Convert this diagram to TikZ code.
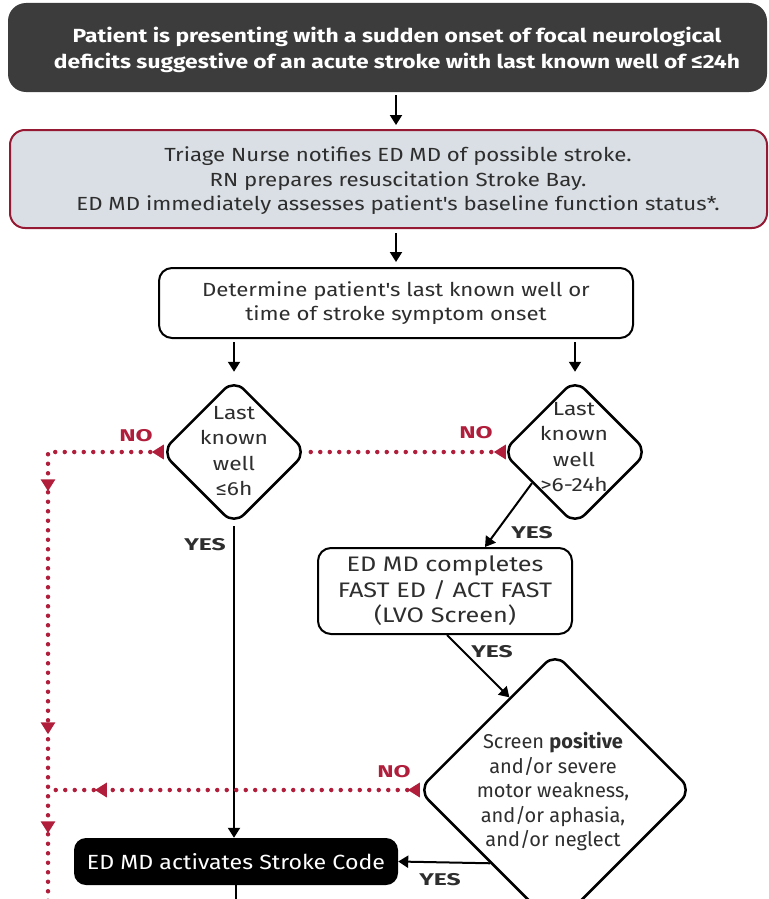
\documentclass[tikz,border=0pt]{standalone}
\usepackage{fontspec}
\setmainfont{Fira Sans}
\newfontfamily\wideface[FakeStretch=1.2]{Fira Sans}
\newfontfamily\boxface[FakeStretch=1.17]{Fira Sans}
\newfontfamily\codeface[FakeStretch=1.13]{Fira Sans}
\newfontfamily\tagface[FakeStretch=1.45]{Fira Sans}
\usepackage{tikz}
\usetikzlibrary{positioning,arrows.meta,shapes.geometric,decorations.markings,calc}
\definecolor{slate}{HTML}{3C3C3C}
\definecolor{mist}{HTML}{D9DFE4}
\definecolor{crimson}{HTML}{B01E3C}
\definecolor{ink}{HTML}{2E2E2E}

\begin{document}
\begin{tikzpicture}[x=1pt,y=-1pt,>={Triangle[length=10pt,width=12pt]},
  redtip/.tip={Triangle[length=12pt,width=14pt]},
  txt/.style={align=center,text=ink,inner sep=0pt,font=\wideface\fontsize{19}{25.5}\selectfont},
  flow/.style={->,line width=2pt,draw=black},
  nopath/.style={draw=crimson,line width=4.5pt,line cap=round,dash pattern=on 0pt off 9.5pt},
  yeslbl/.style={font=\tagface\fontsize{17}{17}\selectfont\bfseries,text=ink,inner sep=0pt},
  nolbl/.style={font=\tagface\fontsize{17}{17}\selectfont\bfseries,text=crimson,inner sep=0pt},
  plainbox/.style={draw=black,line width=2pt,fill=white,rounded corners=13pt},
  decision/.style={draw=black,line width=2.5pt,fill=white,diamond,aspect=1,rounded corners=14pt,inner sep=0pt,minimum width=#1,minimum height=#1}]
\useasboundingbox (0,0) rectangle (768,899);
\clip (0,0) rectangle (768,899);

\node[fill=slate,rounded corners=18pt,minimum width=759pt,minimum height=89pt] (onset) at (387.5,47.5) {};
\node[txt,text=white,font=\wideface\fontsize{19}{26}\selectfont\bfseries] (onsettxt) at (397,50) {Patient is presenting with a sudden onset of focal neurological\\deficits suggestive of an acute stroke with last known well of ≤24h};
\node[draw=crimson!85!black,line width=2pt,fill=mist,rounded corners=15pt,minimum width=757pt,minimum height=98pt] (triage) at (388.5,179) {};
\node[txt,font=\boxface\fontsize{19}{24.5}\selectfont] (triagetxt) at (398,181) {Triage Nurse notifies ED MD of possible stroke.\\RN prepares resuscitation Stroke Bay.\\ED MD immediately assesses patient's baseline function status*.};
\node[plainbox,txt,font=\boxface\fontsize{19}{24}\selectfont,minimum width=474pt,minimum height=70pt] (determine) at (396,303) {Determine patient's last known well or\\time of stroke symptom onset};

\node[decision=146pt] (early) at (234,452) {};
\node[txt] (earlytxt) at (234,451) {Last\\known\\well\\≤6h};
\node[decision=146pt] (late) at (575,452) {};
\node[txt] (latetxt) at (574,447) {Last\\known\\well\\>6-24h};
\node[plainbox,txt,font=\wideface\fontsize{21}{25.5}\selectfont,minimum width=254pt,minimum height=86pt] (lvo) at (445,591) {ED MD completes\\FAST ED / ACT FAST\\(LVO Screen)};
\node[decision=274pt] (screen) at (555,790) {};
\node[txt,font=\fontsize{20}{24.5}\selectfont] (screentxt) at (553,792) {Screen \textbf{positive}\\and/or severe\\motor weakness,\\and/or aphasia,\\and/or neglect};
\node[fill=black,rounded corners=12pt,minimum width=324pt,minimum height=47pt,text=white,inner sep=0pt,font=\codeface\fontsize{20.5}{20.5}\selectfont] (stroke) at (236,861.5) {ED MD activates Stroke Code};

\coordinate (leftturn) at (48,452);
\coordinate (leftmerge) at (48,790);
\coordinate (leftend) at (48,915);
\coordinate (strokeend) at (236,915);
\coordinate (lateexit) at ($(late.west)!0.42!(late.south)$);
\coordinate (screenin) at ($(screen.north)!0.33!(screen.west)$);
\coordinate (screenexit) at ($(screen.west)!0.53!(screen.south)$);

\draw[flow,shorten <=3pt,shorten >=4pt] (onset.south -| determine.north) -- (triage.north -| determine.north);
\draw[flow,shorten <=4pt,shorten >=5pt] (triage.south -| determine.north) -- (determine.north);
\draw[flow,shorten <=3pt,shorten >=6pt] (determine.south -| early.north) -- (early.north);
\draw[flow,shorten <=3pt,shorten >=6pt] (determine.south -| late.north) -- (late.north);
\draw[flow] (early.south) -- (early.south |- stroke.north);
\draw[flow] (lateexit) -- ([xshift=40pt]lvo.north);
\draw[flow] ([xshift=2pt]lvo.south) -- (screenin);
\draw[flow] (screenexit) -- (stroke.east);
\draw[line width=2pt] (stroke.south) -- (strokeend);

\draw[nopath,postaction={decorate,decoration={markings,
  mark=at position 8pt with {\arrow{redtip}},
  mark=at position 151pt with {\arrow{redtip}},
  mark=at position 394pt with {\arrow{redtip}},
  mark=at position 493pt with {\arrow{redtip}}}}]
  (early.west) -- (leftturn) -- (leftend);
\draw[nopath,postaction={decorate,decoration={markings,
  mark=at position 7pt with {\arrow{redtip}}}}]
  (late.west) -- (early.east);
\draw[nopath,postaction={decorate,decoration={markings,
  mark=at position 9pt with {\arrow{redtip}},
  mark=at position 322pt with {\arrow{redtip}}}}]
  (screen.west) -- (leftmerge);

\node[nolbl] (nofirst) at (136,436) {NO};
\node[nolbl] (nolate) at (476,433) {NO};
\node[nolbl] (noscreen) at (394,772) {NO};
\node[yeslbl] (yesfirst) at (205,545) {YES};
\node[yeslbl] (yeslate) at (532,533) {YES};
\node[yeslbl] (yeslvo) at (492,652) {YES};
\node[yeslbl] (yesscreen) at (440,880) {YES};
\end{tikzpicture}
\end{document}
